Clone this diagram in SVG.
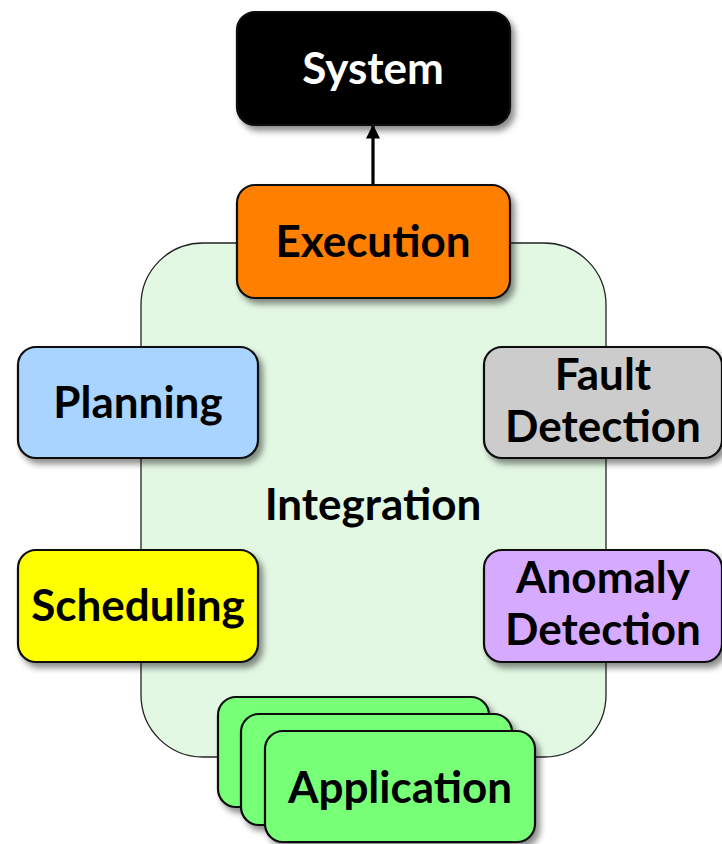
<svg xmlns="http://www.w3.org/2000/svg" width="722" height="844" viewBox="0 0 722 844">
<defs>
<filter id="sh" x="-10%" y="-10%" width="130%" height="140%">
<feDropShadow dx="4" dy="5" stdDeviation="3" flood-color="#000" flood-opacity="0.45"/>
</filter>
<marker id="ah" viewBox="0 0 10 10" refX="9" refY="5" markerWidth="16" markerHeight="14" orient="auto" markerUnits="userSpaceOnUse">
<path d="M0,0 L10,5 L0,10 z" fill="#000"/>
</marker>
</defs>
<style>
.box{stroke:#111;stroke-width:2.2;filter:url(#sh)}
.t{font-family:Lato,"Open Sans","Liberation Sans",sans-serif;font-weight:700;font-size:44px;text-anchor:middle;fill:#000}
</style>
<rect width="722" height="844" fill="#fff"/>
<g id="integration">
<rect x="141" y="243" width="465" height="514" rx="62" fill="#E3F8E3" stroke="#222" stroke-width="1.3"/>
<text class="t" x="373" y="520">Integration</text>
</g>
<g id="connectors">
<line x1="373" y1="185" x2="373" y2="126" stroke="#000" stroke-width="3.2" marker-end="url(#ah)"/>
</g>
<g id="system">
<rect class="box" x="237" y="12" width="273" height="113" rx="18" fill="#000"/>
<text class="t" x="373" y="84" style="fill:#fff">System</text>
</g>
<g id="execution">
<rect class="box" x="237" y="185" width="273" height="113" rx="18" fill="#FF7F00"/>
<text class="t" x="373" y="257">Execution</text>
</g>
<g id="planning">
<rect class="box" x="18" y="347" width="240" height="111" rx="18" fill="#A8D4FF"/>
<text class="t" x="138" y="418">Planning</text>
</g>
<g id="scheduling">
<rect class="box" x="18" y="550" width="240" height="112" rx="18" fill="#FFFF00"/>
<text class="t" x="138" y="621">Scheduling</text>
</g>
<g id="fault">
<rect class="box" x="484" y="347" width="238" height="111" rx="18" fill="#CCCCCC"/>
<text class="t" x="603" y="390">Fault</text>
<text class="t" x="603" y="442">Detection</text>
</g>
<g id="anomaly">
<rect class="box" x="484" y="550" width="238" height="112" rx="18" fill="#D5AAFF"/>
<text class="t" x="603" y="593">Anomaly</text>
<text class="t" x="603" y="645">Detection</text>
</g>
<g id="application">
<rect class="box" x="218" y="697" width="271" height="110" rx="18" fill="#77FF77"/>
<rect class="box" x="241" y="714" width="271" height="111" rx="18" fill="#77FF77"/>
<rect class="box" x="265" y="731" width="270" height="111" rx="18" fill="#77FF77"/>
<text class="t" x="400" y="803">Application</text>
</g>
</svg>
